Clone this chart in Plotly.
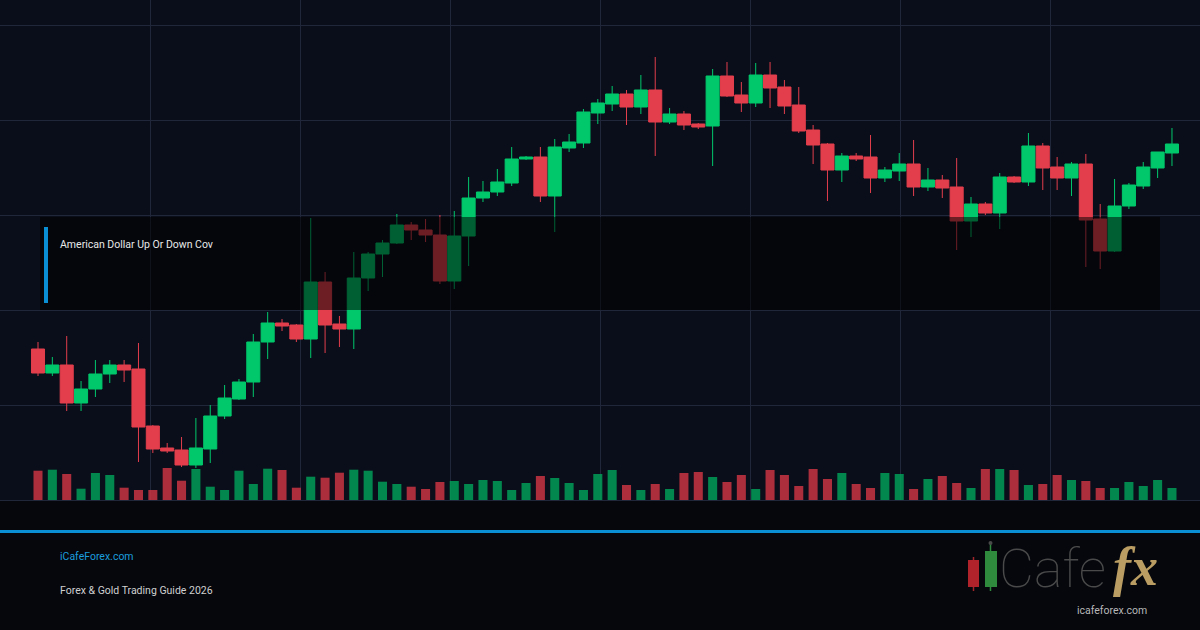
import plotly.graph_objects as go

# ---------------- data ----------------
bars = list(range(80))
opens = [1.0651, 1.0627, 1.0635, 1.0597, 1.0611, 1.0626, 1.0635, 1.0631, 1.0574, 1.0552,
         1.0550, 1.0535, 1.0551, 1.0584, 1.0601, 1.0618, 1.0658, 1.0677, 1.0675, 1.0661,
         1.0718, 1.0676, 1.0671, 1.0722, 1.0746, 1.0757, 1.0775, 1.0770, 1.0765, 1.0719,
         1.0764, 1.0802, 1.0808, 1.0817, 1.0841, 1.0843, 1.0804, 1.0852, 1.0857, 1.0887,
         1.0896, 1.0906, 1.0893, 1.0910, 1.0878, 1.0886, 1.0876, 1.0874, 1.0924, 1.0905,
         1.0897, 1.0925, 1.0913, 1.0895, 1.0870, 1.0856, 1.0830, 1.0844, 1.0843, 1.0822,
         1.0829, 1.0836, 1.0813, 1.0820, 1.0813, 1.0779, 1.0796, 1.0787, 1.0823, 1.0818,
         1.0854, 1.0833, 1.0822, 1.0836, 1.0781, 1.0749, 1.0794, 1.0814, 1.0832, 1.0847]
highs = [1.0658, 1.0643, 1.0664, 1.0619, 1.0640, 1.0640, 1.0640, 1.0657, 1.0575, 1.0557,
         1.0563, 1.0582, 1.0595, 1.0615, 1.0621, 1.0666, 1.0688, 1.0681, 1.0676, 1.0782,
         1.0728, 1.0684, 1.0748, 1.0748, 1.0760, 1.0786, 1.0778, 1.0781, 1.0785, 1.0789,
         1.0823, 1.0819, 1.0831, 1.0853, 1.0844, 1.0853, 1.0861, 1.0866, 1.0891, 1.0901,
         1.0914, 1.0910, 1.0925, 1.0943, 1.0892, 1.0889, 1.0877, 1.0931, 1.0938, 1.0918,
         1.0937, 1.0938, 1.0920, 1.0913, 1.0875, 1.0857, 1.0847, 1.0847, 1.0865, 1.0833,
         1.0847, 1.0860, 1.0832, 1.0825, 1.0842, 1.0803, 1.0798, 1.0827, 1.0824, 1.0867,
         1.0857, 1.0843, 1.0838, 1.0846, 1.0796, 1.0821, 1.0817, 1.0838, 1.0848, 1.0872]
lows = [1.0624, 1.0624, 1.0589, 1.0589, 1.0603, 1.0617, 1.0618, 1.0538, 1.0547, 1.0547,
        1.0533, 1.0532, 1.0537, 1.0581, 1.0600, 1.0603, 1.0641, 1.0669, 1.0658, 1.0642,
        1.0647, 1.0653, 1.0651, 1.0709, 1.0723, 1.0756, 1.0760, 1.0758, 1.0716, 1.0711,
        1.0734, 1.0798, 1.0804, 1.0814, 1.0840, 1.0798, 1.0768, 1.0848, 1.0852, 1.0876,
        1.0889, 1.0875, 1.0886, 1.0844, 1.0876, 1.0870, 1.0871, 1.0834, 1.0903, 1.0888,
        1.0893, 1.0892, 1.0886, 1.0867, 1.0836, 1.0799, 1.0818, 1.0839, 1.0807, 1.0818,
        1.0819, 1.0804, 1.0809, 1.0802, 1.0750, 1.0763, 1.0785, 1.0771, 1.0817, 1.0814,
        1.0810, 1.0810, 1.0804, 1.0733, 1.0731, 1.0748, 1.0791, 1.0811, 1.0822, 1.0834]
closes = [1.0627, 1.0635, 1.0597, 1.0611, 1.0626, 1.0635, 1.0630, 1.0573, 1.0551, 1.0549,
          1.0535, 1.0552, 1.0584, 1.0602, 1.0618, 1.0658, 1.0677, 1.0674, 1.0661, 1.0718,
          1.0675, 1.0671, 1.0722, 1.0746, 1.0757, 1.0775, 1.0770, 1.0765, 1.0719, 1.0764,
          1.0802, 1.0808, 1.0818, 1.0841, 1.0843, 1.0804, 1.0853, 1.0858, 1.0888, 1.0897,
          1.0906, 1.0893, 1.0910, 1.0878, 1.0886, 1.0875, 1.0873, 1.0924, 1.0904, 1.0897,
          1.0925, 1.0912, 1.0894, 1.0869, 1.0855, 1.0830, 1.0844, 1.0841, 1.0822, 1.0830,
          1.0836, 1.0813, 1.0820, 1.0812, 1.0779, 1.0796, 1.0787, 1.0823, 1.0818, 1.0854,
          1.0832, 1.0822, 1.0836, 1.0780, 1.0749, 1.0794, 1.0815, 1.0833, 1.0848, 1.0856]
volumes = [29300, 30300, 26000, 11300, 27000, 25000, 12300, 10000, 10000, 32000,
           19300, 31000, 13300, 10000, 29300, 16000, 31300, 30000, 12300, 23300,
           22300, 27300, 30300, 29300, 18300, 16000, 13300, 11000, 18000, 19000,
           16000, 20000, 19000, 10000, 17000, 24000, 22000, 17000, 10000, 26000,
           30000, 15000, 10000, 16000, 11000, 27000, 28000, 23000, 18000, 25000,
           11000, 30000, 25000, 14000, 31000, 21000, 27000, 16000, 12000, 27000,
           26000, 11000, 21000, 24000, 17000, 12000, 31000, 31000, 30000, 15000,
           16000, 25000, 20000, 19000, 12000, 12000, 18000, 14000, 20000, 12000]

title_text = "American Dollar Up Or Down Cov"
site_text = "iCafeForex.com"
guide_text = "Forex & Gold Trading Guide 2026"
logo_main = "Cafe"
logo_fx = "fx"
logo_url = "icafeforex.com"

# ---------------- style / layout constants ----------------
W, H = 1200, 630
PLOT_H = 500
GREEN = "#00c86b"
RED = "#e33e4c"
VOL_GREEN = "rgba(0,170,92,0.78)"
VOL_RED = "rgba(212,54,68,0.80)"
BLUE = "#0b8fd4"
GRID = "#20273a"

first_px, step_px = 38.0, 14.354
x_range = [-first_px / step_px, (W - first_px) / step_px]
x_grid = [(150 * k - first_px) / step_px for k in range(1, 8)]


def px_x(p):
    return p / W


def px_y(p):
    return (PLOT_H - p) / PLOT_H


vol_colors = [VOL_GREEN if c >= o else VOL_RED for o, c in zip(opens, closes)]

fig = go.Figure()
fig.add_trace(go.Candlestick(
    x=bars, open=opens, high=highs, low=lows, close=closes,
    increasing=dict(line=dict(color=GREEN, width=1), fillcolor=GREEN),
    decreasing=dict(line=dict(color=RED, width=1), fillcolor=RED),
    whiskerwidth=0, hoverinfo="skip", showlegend=False,
))
fig.add_trace(go.Bar(
    x=bars, y=volumes, marker=dict(color=vol_colors, line=dict(width=0)),
    yaxis="y2", hoverinfo="skip", showlegend=False,
))

shapes = [
    # bottom grid line at the plot edge
    dict(type="line", xref="paper", yref="paper", x0=0, x1=1, y0=px_y(500.5), y1=px_y(500.5),
         line=dict(color=GRID, width=1), layer="below"),
    # dim overlay box
    dict(type="rect", xref="paper", yref="paper", x0=px_x(40), x1=px_x(1160),
         y0=px_y(310), y1=px_y(217), fillcolor="rgba(0,0,0,0.52)",
         line=dict(width=0), layer="above"),
    dict(type="rect", xref="paper", yref="paper", x0=px_x(44), x1=px_x(48),
         y0=px_y(303), y1=px_y(227), fillcolor=BLUE, line=dict(width=0), layer="above"),
    # footer separator
    dict(type="rect", xref="paper", yref="paper", x0=0, x1=1,
         y0=px_y(533), y1=px_y(530), fillcolor=BLUE, line=dict(width=0), layer="above"),
    # logo candles
    dict(type="line", xref="paper", yref="paper", x0=px_x(973.5), x1=px_x(973.5),
         y0=px_y(591), y1=px_y(557), line=dict(color="#a3242b", width=1.5), layer="above"),
    dict(type="rect", xref="paper", yref="paper", x0=px_x(968), x1=px_x(979),
         y0=px_y(587), y1=px_y(560), fillcolor="#b1232b", line=dict(width=0), layer="above"),
    dict(type="line", xref="paper", yref="paper", x0=px_x(990.5), x1=px_x(990.5),
         y0=px_y(591), y1=px_y(544), line=dict(color="#2f8a3e", width=1.5), layer="above"),
    dict(type="circle", xref="paper", yref="paper", x0=px_x(988.5), x1=px_x(992.5),
         y0=px_y(545), y1=px_y(541), fillcolor="#4a4a4a", line=dict(width=0), layer="above"),
    dict(type="rect", xref="paper", yref="paper", x0=px_x(985), x1=px_x(997),
         y0=px_y(587), y1=px_y(551), fillcolor="#2f8a3e", line=dict(width=0), layer="above"),
]

annotations = [
    dict(text=title_text, xref="paper", yref="paper", x=px_x(58), y=px_y(244),
         xanchor="left", yanchor="middle", showarrow=False,
         font=dict(family="Roboto", size=10.5, color="#e8e8e8")),
    dict(text=site_text, xref="paper", yref="paper", x=px_x(58), y=px_y(556),
         xanchor="left", yanchor="middle", showarrow=False,
         font=dict(family="Roboto", size=10.5, color="#1c9ddc")),
    dict(text=guide_text, xref="paper", yref="paper", x=px_x(58), y=px_y(590),
         xanchor="left", yanchor="middle", showarrow=False,
         font=dict(family="Roboto", size=10.5, color="#d0d0d0")),
    dict(text=logo_main, xref="paper", yref="paper", x=px_x(997), y=px_y(568),
         xanchor="left", yanchor="middle", showarrow=False,
         font=dict(family="Roboto", size=54, color="#4a4a4a", weight=100)),
    dict(text="<i><b>" + logo_fx + "</b></i>", xref="paper", yref="paper",
         x=px_x(1135), y=px_y(567), xanchor="center", yanchor="middle", showarrow=False,
         font=dict(family="Liberation Serif", size=54, color="#b99d62")),
    dict(text=logo_url, xref="paper", yref="paper", x=px_x(1112), y=px_y(610),
         xanchor="center", yanchor="middle", showarrow=False,
         font=dict(family="Roboto", size=10.5, color="#b8b8b8")),
]

fig.update_layout(
    width=W, height=H,
    margin=dict(l=0, r=0, t=0, b=H - PLOT_H, pad=0),
    paper_bgcolor="#05070d",
    plot_bgcolor="#0a0e1b",
    showlegend=False,
    boxgap=0.09, boxgroupgap=0,
    bargap=0.37,
    xaxis=dict(range=x_range, tickmode="array", tickvals=x_grid, showticklabels=False,
               showgrid=True, gridcolor=GRID, gridwidth=1, zeroline=False,
               ticks="", showline=False, rangeslider=dict(visible=False), fixedrange=True),
    yaxis=dict(range=[1.05, 1.10], tick0=1.05, dtick=0.0095, showticklabels=False,
               showgrid=True, gridcolor=GRID, gridwidth=1, zeroline=False, ticks="",
               showline=False, fixedrange=True),
    yaxis2=dict(range=[0, 500000], overlaying="y", visible=False, showgrid=False,
                fixedrange=True),
    shapes=shapes,
    annotations=annotations,
)

fig.write_html("out.html", config={"displayModeBar": False})
